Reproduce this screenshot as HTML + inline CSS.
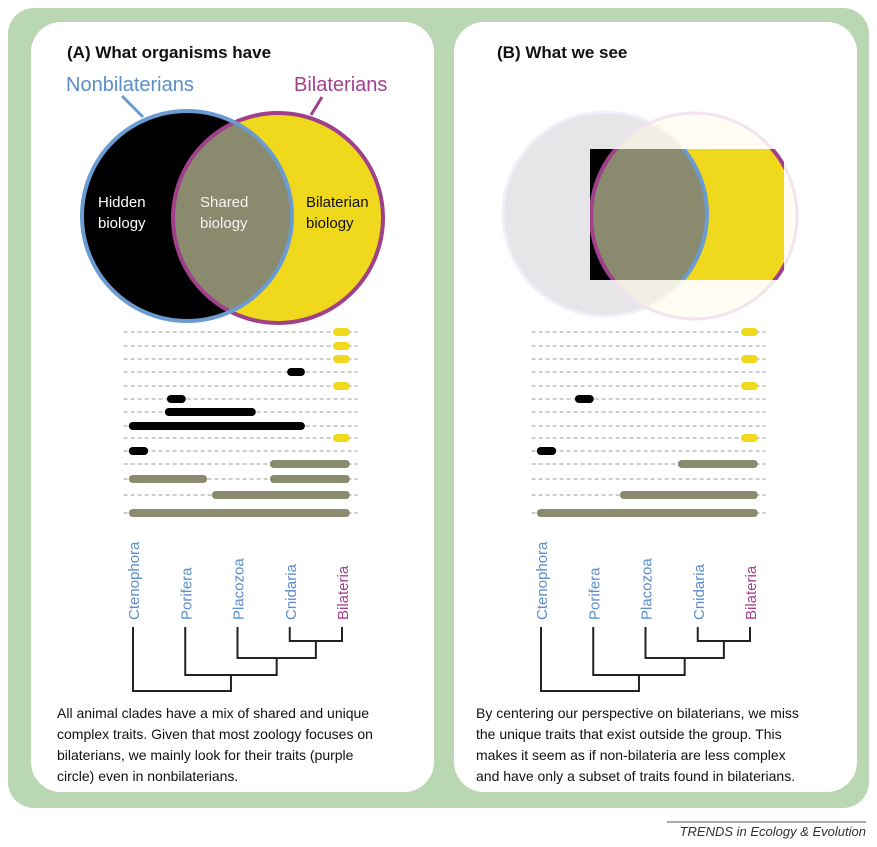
<!DOCTYPE html>
<html><head><meta charset="utf-8">
<style>
html,body{margin:0;padding:0;background:#fff;}
svg{display:block;font-family:"Liberation Sans",sans-serif;}
</style></head>
<body>
<svg id="fig" width="877" height="847" viewBox="0 0 877 847">
<defs>
<clipPath id="clipRA"><circle cx="278" cy="218" r="105"/></clipPath>
<clipPath id="clipRB"><circle cx="694" cy="216" r="103"/></clipPath>
<clipPath id="winB"><rect x="590" y="149" width="194" height="131"/></clipPath>
</defs>
<rect x="8" y="8" width="861" height="800" rx="26" fill="#b8d7b2"/>
<rect x="31" y="22" width="403" height="770" rx="30" fill="#fff"/>
<rect x="454" y="22" width="403" height="770" rx="30" fill="#fff"/>

<text x="67" y="58" font-size="17" font-weight="bold" fill="#111">(A)  What organisms have</text>
<text x="497" y="58" font-size="17" font-weight="bold" fill="#111">(B)  What we see</text>

<text x="66" y="91" font-size="20" fill="#5b8ec9">Nonbilaterians</text>
<text x="294" y="91" font-size="20" fill="#a3418f">Bilaterians</text>

<g>
<circle cx="187" cy="216" r="105" fill="#000"/>
<circle cx="278" cy="218" r="105" fill="#f0d81c"/>
<circle cx="187" cy="216" r="105" fill="#8a8a6e" clip-path="url(#clipRA)"/>
<circle cx="278" cy="218" r="105" fill="none" stroke="#a0408a" stroke-width="4"/>
<circle cx="187" cy="216" r="105" fill="none" stroke="#6a9bd1" stroke-width="4"/>
<text x="98" y="207" font-size="15" fill="#fff"><tspan x="98">Hidden</tspan><tspan x="98" dy="21">biology</tspan></text>
<text x="200" y="207" font-size="15" fill="#f4f4f4"><tspan x="200">Shared</tspan><tspan x="200" dy="21">biology</tspan></text>
<text x="306" y="207" font-size="15" fill="#111"><tspan x="306">Bilaterian</tspan><tspan x="306" dy="21">biology</tspan></text>
</g>
<line x1="122" y1="96" x2="143" y2="117" stroke="#6a9bd1" stroke-width="3"/>
<line x1="322" y1="97" x2="311" y2="115" stroke="#a0408a" stroke-width="3"/>

<g>
<circle cx="605" cy="214" r="102" fill="#e6e6e8" stroke="#eef0fa" stroke-width="3"/>
<circle cx="694" cy="216" r="103" fill="#fffbe0" fill-opacity="0.45" stroke="#f3e3f0" stroke-width="3"/>
<g clip-path="url(#winB)">
<circle cx="605" cy="214" r="102" fill="#000"/>
<circle cx="694" cy="216" r="103" fill="#f0d81c"/>
<circle cx="605" cy="214" r="102" fill="#8a8a6e" clip-path="url(#clipRB)"/>
<circle cx="694" cy="216" r="103" fill="none" stroke="#a0408a" stroke-width="4"/>
<circle cx="605" cy="214" r="102" fill="none" stroke="#6a9bd1" stroke-width="4"/>
</g>
</g>

<g id="traitsA"></g>
<g id="traitsB"></g>
<g id="treeA"></g>
<g id="treeB"></g>

<text font-size="14" fill="#111">
<tspan x="57" y="718">All animal clades have a mix of shared and unique</tspan>
<tspan x="57" y="739">complex traits. Given that most zoology focuses on</tspan>
<tspan x="57" y="760">bilaterians, we mainly look for their traits (purple</tspan>
<tspan x="57" y="781">circle) even in nonbilaterians.</tspan>
</text>
<text font-size="14" fill="#111">
<tspan x="476" y="718">By centering our perspective on bilaterians, we miss</tspan>
<tspan x="476" y="739">the unique traits that exist outside the group. This</tspan>
<tspan x="476" y="760">makes it seem as if non-bilateria are less complex</tspan>
<tspan x="476" y="781">and have only a subset of traits found in bilaterians.</tspan>
</text>
<line x1="667" y1="822" x2="866" y2="822" stroke="#555" stroke-width="1"/>
<text x="866" y="836" text-anchor="end" font-size="13" font-style="italic" fill="#333">TRENDS in Ecology &amp; Evolution</text>
</svg>
<script>
const taxa = ["Ctenophora","Porifera","Placozoa","Cnidaria","Bilateria"];
const taxaColors = ["#5b8ec9","#5b8ec9","#5b8ec9","#5b8ec9","#a3418f"];
const rowY = [332,346,359,372,386,399,412,426,438,451,464,479,495,513];
const traitRows = [0,1,2,3,4,5,6,7,8,9,10,11,11,12,13];
const traitStart = [3.83,3.83,3.83,2.95,3.83,0.65,0.61,-0.08,3.83,-0.08,2.62,-0.08,2.62,1.51,-0.08];
const traitEnd   = [4.15,4.15,4.15,3.29,4.15,1.01,2.35,3.29,4.15,0.29,4.15,1.42,4.15,4.15,4.15];
const traitType  = ["y","y","y","b","y","b","b","b","y","b","o","o","o","o","o"];
const visibleB = [0,2,4,5,8,9,10,13,14];
const typeColor = {y:"#f0d81c", b:"#000", o:"#8a8a6e"};
const NS="http://www.w3.org/2000/svg";
function mk(tag, attrs, parent){const e=document.createElementNS(NS,tag);for(const k in attrs)e.setAttribute(k,attrs[k]);parent.appendChild(e);return e;}

function drawPanel(x0, gTraits, gTree, which){
  const xs = v => x0 + 52.25*v;
  rowY.forEach((y,i)=>{
    const l = mk("line",{x1:xs(-0.18),x2:xs(4.3),y1:y,y2:y,stroke:"#b0b0b0","stroke-width":1.2,"stroke-dasharray":"4 3"},gTraits);
    
    
  });
  traitRows.forEach((r,i)=>{
    if(which==="B" && visibleB.indexOf(i)<0) return;
    const b = mk("line",{x1:xs(traitStart[i])+4,x2:xs(traitEnd[i])-4,y1:rowY[r],y2:rowY[r],stroke:typeColor[traitType[i]],"stroke-width":8,"stroke-linecap":"round"},gTraits);
    
    
  });
  taxa.forEach((t,i)=>{
    const tx = mk("text",{transform:`translate(${xs(i)+6},620) rotate(-90)`,"font-size":15,fill:taxaColors[i]},gTree);
    tx.textContent=t;
    
    
  });
  const tipTop = 627;
  const j3=641,j2=658,j1=675,j0=691;
  const n3=(xs(3)+xs(4))/2, n2=(xs(2)+n3)/2, n1=(xs(1)+n2)/2;
  const path = `M${xs(3)},${tipTop}V${j3}H${xs(4)}V${tipTop} M${n3},${j3}V${j2}H${xs(2)}V${tipTop} M${n2},${j2}V${j1}H${xs(1)}V${tipTop} M${n1},${j1}V${j0}H${xs(0)}V${tipTop}`;
  const p = mk("path",{d:path,fill:"none",stroke:"#222","stroke-width":2},gTree);
  
  
}
drawPanel(133, document.getElementById("traitsA"), document.getElementById("treeA"), "A");
drawPanel(541, document.getElementById("traitsB"), document.getElementById("treeB"), "B");
</script>
</body></html>
